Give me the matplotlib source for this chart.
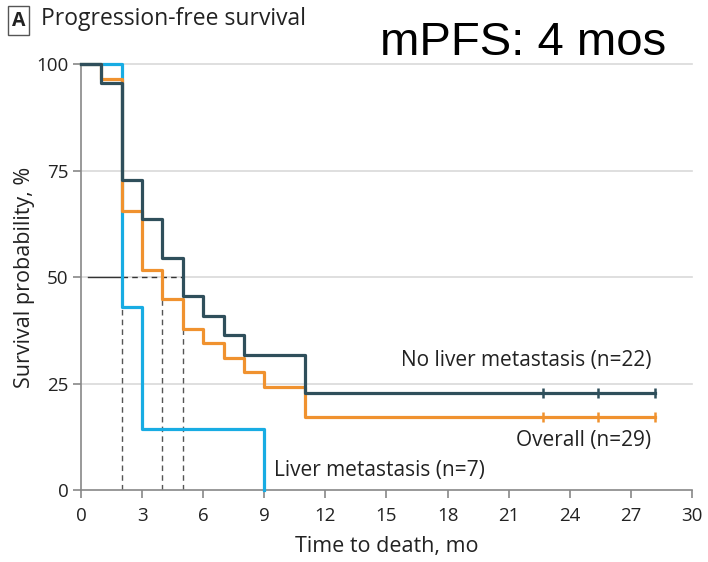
import matplotlib.pyplot as plt
from matplotlib.patches import Rectangle

plt.rcParams['font.family'] = ['Open Sans', 'DejaVu Sans']

# Kaplan-Meier step data (time in months, survival in %)
no_liver_t = [0, 1, 2, 3, 4, 5, 6, 7, 8, 11, 28.2]
no_liver_s = [100, 95.5, 72.7, 63.6, 54.5, 45.5, 40.9, 36.4, 31.8, 22.7, 22.7]
overall_t = [0, 1, 2, 3, 4, 5, 6, 7, 8, 9, 11, 28.2]
overall_s = [100, 96.6, 65.5, 51.7, 44.8, 37.9, 34.5, 31.0, 27.6, 24.1, 17.2, 17.2]
liver_t = [0, 2, 3, 9, 9]
liver_s = [100, 42.9, 14.3, 0, 0]
censor_t = [22.7, 25.4, 28.2]
medians = [2, 4, 5]

x_ticks = list(range(0, 31, 3))
y_ticks = [0, 25, 50, 75, 100]

c_dark = '#2f4f5b'
c_orange = '#f0922f'
c_cyan = '#18ace3'
c_text = '#222222'

fig = plt.figure(figsize=(7.08, 5.62), dpi=100)
ax = fig.add_axes([0.1144, 0.128, 0.863, 0.758])

for y in y_ticks[1:]:
    ax.plot([0, 30], [y, y], color='#d9d9d9', lw=1.2, zorder=1, clip_on=False)

# median guide lines
ax.plot([0.35, 2], [50, 50], color='#333333', lw=1.0, zorder=2)
ax.plot([2, 5], [50, 50], color='#333333', lw=1.0, ls=(0, (4, 3)), zorder=2)
for m in medians:
    ax.plot([m, m], [0, 50], color='#555555', lw=1.0, ls=(0, (4, 3)), zorder=2)

ax.plot(liver_t, liver_s, drawstyle='steps-post', color=c_cyan, lw=2.3, zorder=3, clip_on=False)
ax.plot(overall_t, overall_s, drawstyle='steps-post', color=c_orange, lw=2.3, zorder=4, clip_on=False)
ax.plot(no_liver_t, no_liver_s, drawstyle='steps-post', color=c_dark, lw=2.3, zorder=5, clip_on=False)

ax.plot(censor_t, [overall_s[-1]] * 3, ls='none', marker='|', ms=7, mew=1.8, color=c_orange, zorder=4)
ax.plot(censor_t, [no_liver_s[-1]] * 3, ls='none', marker='|', ms=7, mew=1.8, color=c_dark, zorder=5)

ax.text(28.0, 30.3, 'No liver metastasis (n=22)', ha='right', va='center', fontsize=15, color=c_text)
ax.text(28.0, 11.7, 'Overall (n=29)', ha='right', va='center', fontsize=15, color=c_text)
ax.text(9.5, 4.7, 'Liver metastasis (n=7)', ha='left', va='center', fontsize=15, color=c_text)

ax.set_xlim(0, 30)
ax.set_ylim(0, 100)
ax.set_xticks(x_ticks)
ax.set_yticks(y_ticks)
ax.tick_params(colors='#888888', labelcolor=c_text, labelsize=13.5, length=6, width=1.2)
ax.tick_params(axis='x', pad=6)
ax.tick_params(axis='y', pad=3)
for s in ['top', 'right']:
    ax.spines[s].set_visible(False)
for s in ['left', 'bottom']:
    ax.spines[s].set_color('#888888')
    ax.spines[s].set_linewidth(1.2)

ax.set_xlabel('Time to death, mo', fontsize=15.5, color=c_text, labelpad=8)
ax.set_ylabel('Survival probability, %', fontsize=15.5, color=c_text, labelpad=1)

# panel tag and title
fig.patches.append(Rectangle((8 / 708, 1 - 35 / 562), 21 / 708, 29 / 562, transform=fig.transFigure,
                             facecolor='white', edgecolor='#555555', lw=1.0))
fig.text(18.5 / 708, 1 - 20.5 / 562, 'A', ha='center', va='center', fontsize=14, fontweight='bold', color=c_text)
fig.text(41 / 708, 1 - 19 / 562, 'Progression-free survival', ha='left', va='center', fontsize=16.5, color=c_text)
fig.text(380 / 708, 1 - 43 / 562, 'mPFS: 4 mos', ha='left', va='center', fontsize=34,
         family='Liberation Sans', color='black')

fig.savefig('out.png', dpi=100, facecolor='white')
